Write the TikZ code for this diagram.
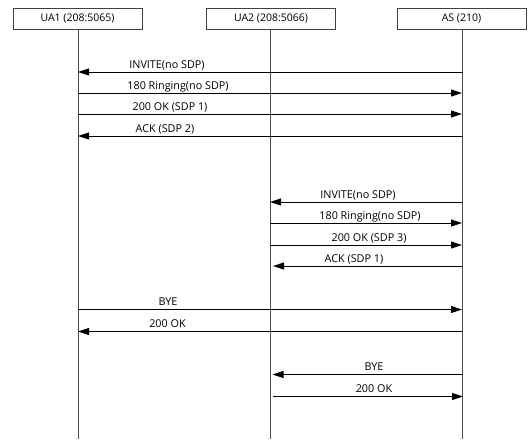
\documentclass[tikz,border=0pt]{standalone}
\usepackage{fontspec}
\setmainfont{Open Sans}
\usetikzlibrary{arrows.meta}
\tikzset{
  party/.style={draw=black!75, line width=0.8pt, minimum width=129pt, minimum height=21pt, inner sep=0pt, font=\fontsize{10.5}{11}\selectfont},
  life/.style={draw=black!70, line width=1pt},
  msg/.style={draw=black, line width=0.9pt, -{Triangle[length=11pt,width=7pt]}},
  lbl/.style={font=\fontsize{10.8}{11}\selectfont, anchor=base, inner sep=0pt},
}
\begin{document}
\begin{tikzpicture}[x=1pt,y=-1pt]
\useasboundingbox (0,0) rectangle (529,439);
\node[party] (ua1) at (77.5,18.5) {UA1 (208:5065)};
\node[party] (ua2) at (271,18.5) {UA2 (208:5066)};
\node[party] (as) at (461.5,18.5) {AS (210)};
\coordinate (ua1e) at (78,439);
\coordinate (ua2e) at (270,439);
\coordinate (ase) at (462,439);
\draw[life] (ua1.south -| ua1e) -- (ua1e);
\draw[life] (ua2.south -| ua2e) -- (ua2e);
\draw[life] (as.south -| ase) -- (ase);
% group 1
\coordinate (m1a) at (462,72);  \coordinate (m1b) at (78,72);
\coordinate (m2a) at (78,93);   \coordinate (m2b) at (462,93);
\coordinate (m3a) at (78,114);  \coordinate (m3b) at (462,114);
\coordinate (m4a) at (462,136); \coordinate (m4b) at (78,136);
\draw[msg] (m1a) -- (m1b);
\draw[msg] (m2a) -- (m2b);
\draw[msg] (m3a) -- (m3b);
\draw[msg] (m4a) -- (m4b);
\node[lbl] (l1) at (167,68) {INVITE(no SDP)};
\node[lbl] (l2) at (178,89) {180 Ringing(no SDP)};
\node[lbl] (l3) at (170,110) {200 OK (SDP 1)};
\node[lbl] (l4) at (165,132) {ACK (SDP 2)};
% group 2
\coordinate (m5a) at (462,202); \coordinate (m5b) at (270,202);
\coordinate (m6a) at (270,223); \coordinate (m6b) at (462,223);
\coordinate (m7a) at (270,245); \coordinate (m7b) at (462,245);
\coordinate (m8a) at (462,266); \coordinate (m8b) at (273,266);
\draw[msg] (m5a) -- (m5b);
\draw[msg] (m6a) -- (m6b);
\draw[msg] (m7a) -- (m7b);
\draw[msg] (m8a) -- (m8b);
\node[lbl] (l5) at (358,198) {INVITE(no SDP)};
\node[lbl] (l6) at (370,219) {180 Ringing(no SDP)};
\node[lbl] (l7) at (369,241) {200 OK (SDP 3)};
\node[lbl] (l8) at (354,262) {ACK (SDP 1)};
% group 3
\coordinate (m9a) at (78,309.5);   \coordinate (m9b) at (462,309.5);
\coordinate (m10a) at (462,331.5); \coordinate (m10b) at (78,331.5);
\draw[msg] (m9a) -- (m9b);
\draw[msg] (m10a) -- (m10b);
\node[lbl] (l9) at (168,305.5) {BYE};
\node[lbl] (l10) at (167.5,327.5) {200 OK};
% group 4
\coordinate (m11a) at (463,374.5); \coordinate (m11b) at (272.5,374.5);
\coordinate (m12a) at (272.5,396.5); \coordinate (m12b) at (463,396.5);
\draw[msg] (m11a) -- (m11b);
\draw[msg] (m12a) -- (m12b);
\node[lbl] (l11) at (374,370.5) {BYE};
\node[lbl] (l12) at (374,392.5) {200 OK};
\end{tikzpicture}
\end{document}
